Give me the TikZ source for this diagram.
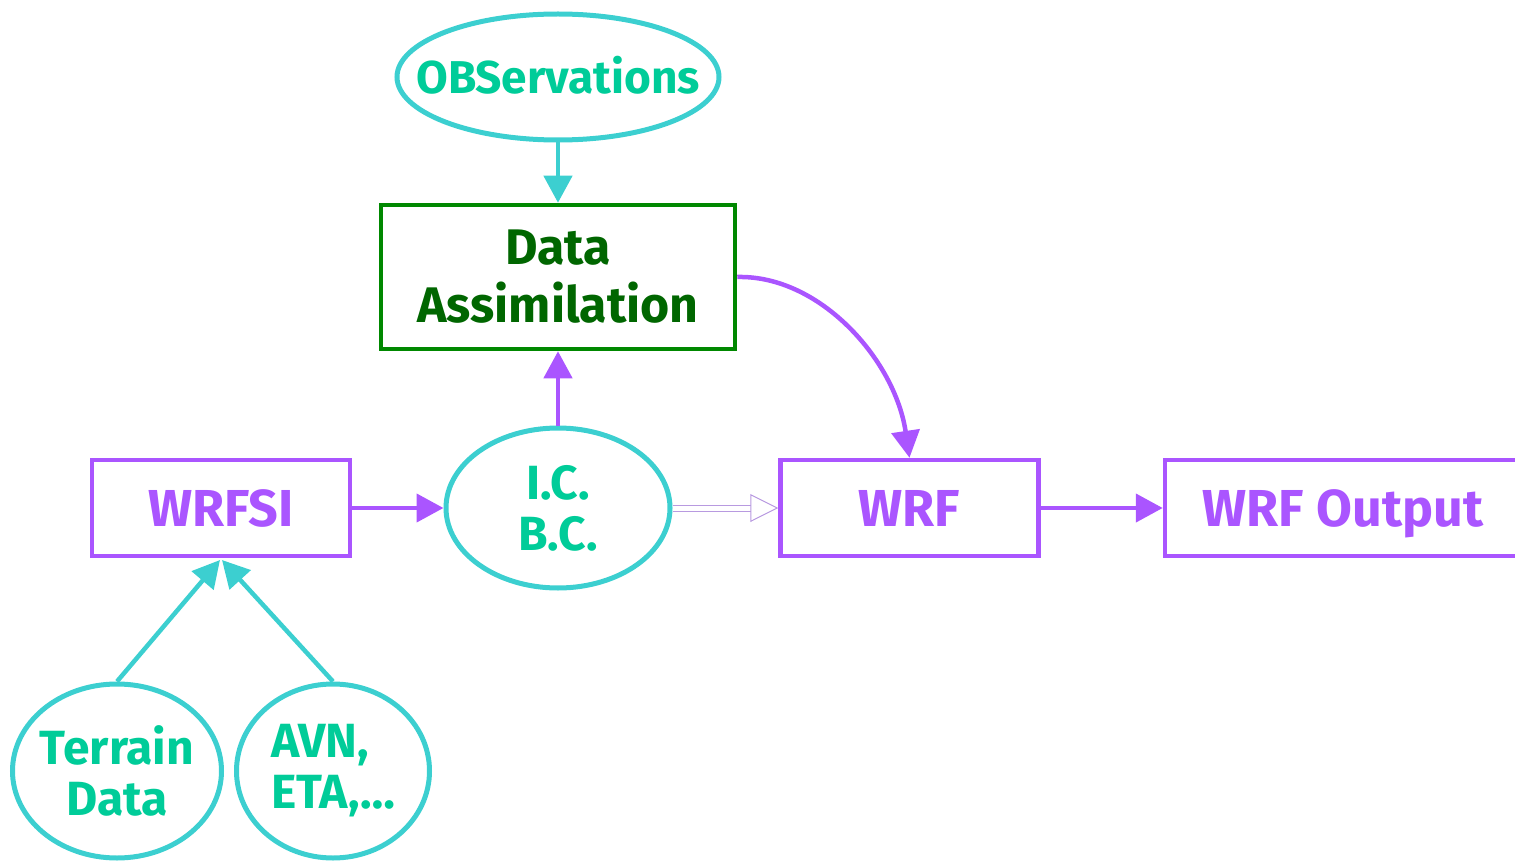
\documentclass[tikz,border=0pt]{standalone}
\usepackage{fontspec}
\setmainfont{Fira Sans}
\usetikzlibrary{arrows.meta,shapes.geometric}
\definecolor{cy}{HTML}{3CCFD0}
\definecolor{tl}{HTML}{00CC99}
\definecolor{pu}{HTML}{AA55FF}
\definecolor{gr}{HTML}{008800}
\definecolor{dg}{HTML}{006600}
\definecolor{lp}{HTML}{B89AE0}
\tikzset{
  pbox/.style={draw=pu,line width=4.5pt,text=pu,minimum width=258pt,minimum height=96pt,font=\fontsize{52}{60}\selectfont\bfseries,inner sep=0pt,text height=37pt,text depth=0pt},
  ell/.style={draw=cy,line width=5pt,ellipse,inner sep=0pt},
  etext/.style={text=tl,inner sep=0pt,font=\fontsize{48}{51}\selectfont\bfseries,align=center},
  carrow/.style={draw=cy,line width=4.5pt,-{Triangle[length=27pt,width=28pt]}},
  parrow/.style={draw=pu,line width=4.5pt,-{Triangle[length=27pt,width=28pt]}},
}
\begin{document}
\begin{tikzpicture}[x=1pt,y=-1pt]
\useasboundingbox (0,0) rectangle (1515,861);
\clip (0,0) rectangle (1515,861);
\node[ell,minimum width=322pt,minimum height=126pt,label={[etext,font=\fontsize{46}{50}\selectfont\bfseries,text height=33pt,text depth=0pt]center:OBServations}] (obs) at (558,77) {};
\node[draw=gr,line width=4.5pt,text=dg,minimum width=354pt,minimum height=144pt,align=center,font=\fontsize{50}{58}\selectfont\bfseries] (da) at (558,277) {Data\\Assimilation};
\node[ell,minimum width=224pt,minimum height=160pt,label={[etext]center:I.C.\\B.C.}] (ic) at (558,508) {};
\node[pbox] (wrfsi) at (221,508) {WRFSI};
\node[pbox] (wrf) at (909.5,508) {WRF};
\node[pbox,minimum width=356pt] (out) at (1343,508) {WRF Output};
\node[ell,minimum width=209pt,minimum height=174pt,label={[etext]center:Terrain\\Data}] (ter) at (117,771) {};
\node[ell,minimum width=193pt,minimum height=174pt,label={[etext,align=left]center:AVN,\\ETA,\ldots}] (avn) at (333,771) {};
\coordinate (tip) at (221,560);
\draw[carrow] (obs.south) -- (da.north);
\draw[parrow] (ic.north) -- (da.south);
\draw[parrow] (wrfsi.east) -- (ic.west);
\draw[parrow] (wrf.east) -- (out.west);
\draw[parrow] (da.east) .. controls (820,275) and (895,360) .. (wrf.north);
\draw[draw=lp,line width=1pt,double=white,double distance=5pt,-{Triangle[open,length=28pt,width=28pt]}] (ic.east) -- (wrf.west);
\draw[carrow] (ter.north) -- ([xshift=-1pt]tip);
\draw[carrow] (avn.north) -- ([xshift=1pt]tip);
\end{tikzpicture}
\end{document}
